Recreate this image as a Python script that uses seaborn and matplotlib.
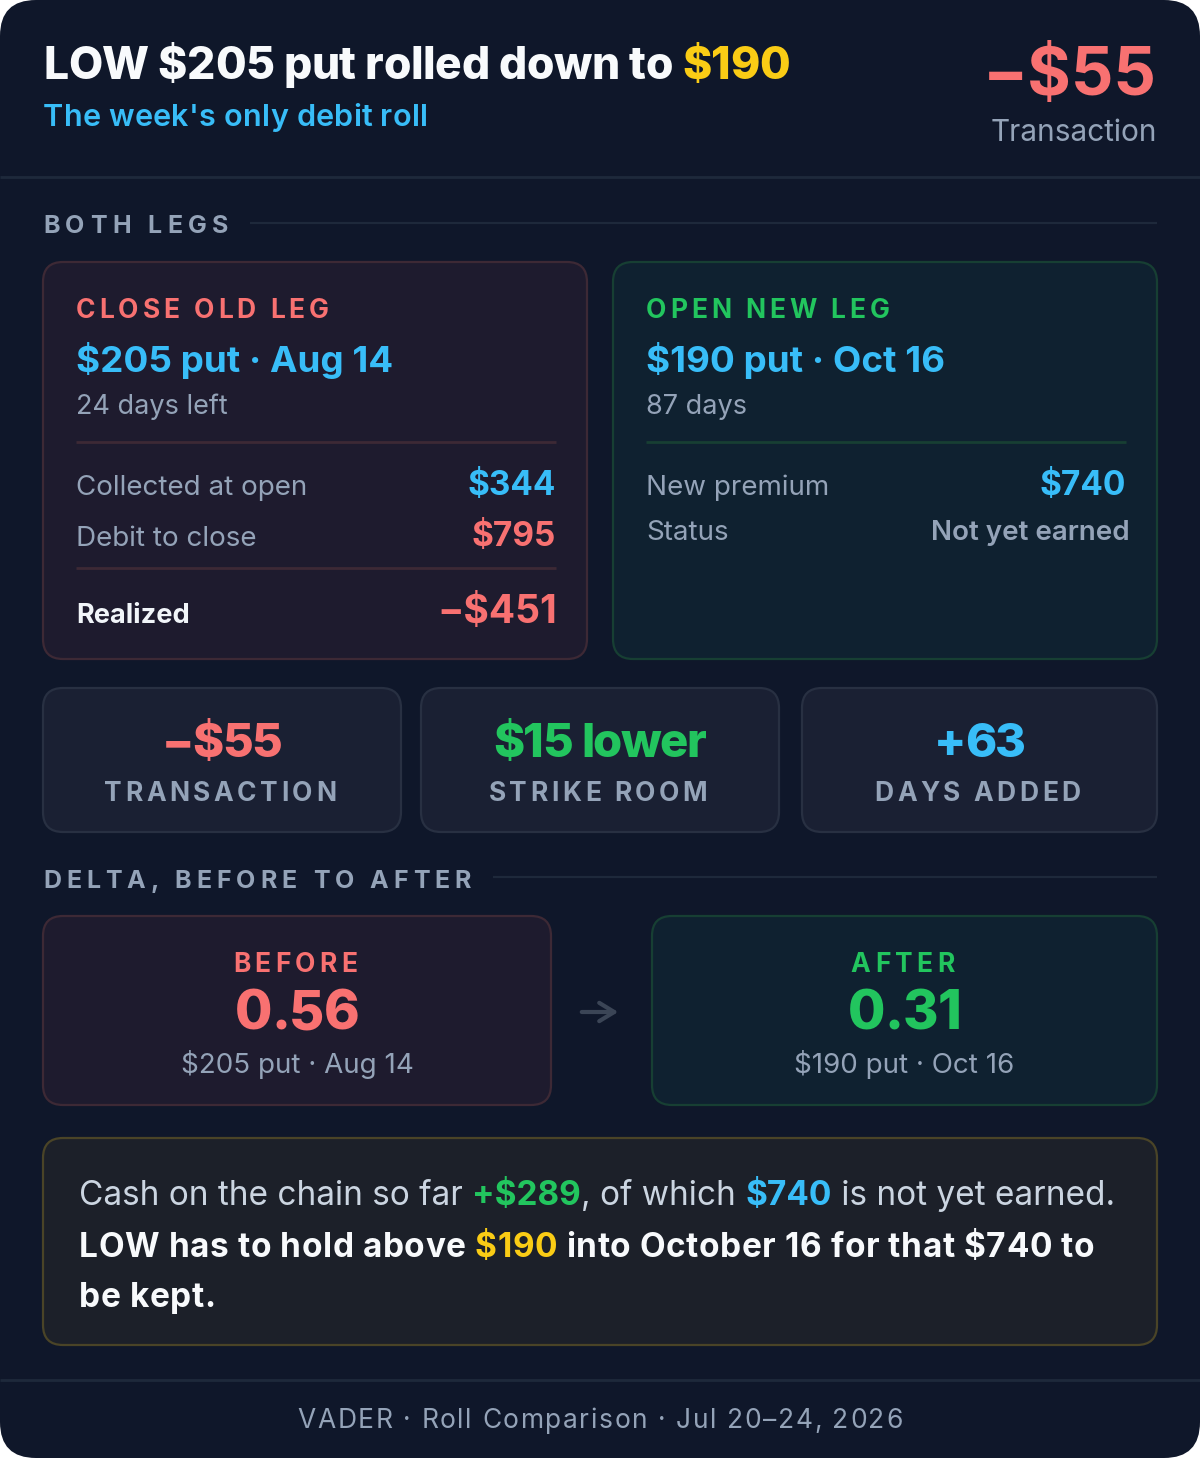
import matplotlib
matplotlib.use("Agg")
import matplotlib.pyplot as plt
import seaborn as sns
from matplotlib.patches import FancyBboxPatch

# -> Datos de la tarjeta <-
ticker = "LOW"
old_strike, new_strike = 205, 190
old_exp, new_exp = "Aug 14", "Oct 16"
old_days, new_days = 24, 87
transaction = -55
collected_open = 344
debit_close = 795
realized = -451
new_premium = 740
stat_values = ["\u2212$55", "$15 lower", "+63"]
stat_labels = ["TRANSACTION", "STRIKE ROOM", "DAYS ADDED"]
delta_labels = ["BEFORE", "AFTER"]
delta_values = [0.56, 0.31]
chain_cash = 289
footer = "VADER \u00b7 Roll Comparison \u00b7 Jul 20\u201324, 2026"

# colores
BG = "#0f172a"
WHITE = "#f8fafc"
GREY = "#94a3b8"
LIGHT = "#cbd5e1"
RED = "#f87171"
GREEN = "#22c55e"
BLUE = "#38bdf8"
YELLOW = "#facc15"
LINE = "#1e293b"
RED_FC, RED_EC = "#1e1b2e", "#3d2935"
GRN_FC, GRN_EC = "#0f2130", "#173f33"
STAT_FC, STAT_EC = "#1a2033", "#283042"
NOTE_FC, NOTE_EC = "#1c2029", "#4a4427"

sns.set_theme(style="dark")
plt.rcParams["font.family"] = ["Inter", "DejaVu Sans"]

W, H = 1200, 1458
fig = plt.figure(figsize=(12, 14.58), dpi=100, facecolor="white")
ax = fig.add_axes([0, 0, 1, 1])
ax.set_xlim(0, W)
ax.set_ylim(H, 0)
ax.axis("off")
rend = fig.canvas.get_renderer()


def _w(s, size, weight):
    t = ax.text(0, 0, s, fontsize=size, fontweight=weight)
    w = t.get_window_extent(rend).width
    t.remove()
    return w


def text_width(s, size, weight):
    """Ancho real incluyendo espacios al final"""
    return _w("x" + s + "x", size, weight) - _w("xx", size, weight)


def caja(x, y, w, h, fc, ec, r=20, lw=1.6):
    ax.add_patch(FancyBboxPatch((x, y), w, h, boxstyle=f"round,pad=0,rounding_size={r}",
                                fc=fc, ec=ec, lw=lw))


def linea(x0, x1, y, color=LINE, lw=1.6):
    ax.plot([x0, x1], [y, y], color=color, lw=lw, solid_capstyle="butt")


def espaciado(x, y, s, size, color, weight="bold", sp=4, ha="left"):
    anchos = [text_width(c, size, weight) for c in s]
    total = sum(anchos) + sp * (len(s) - 1)
    if ha == "center":
        x -= total / 2
    for c, w in zip(s, anchos):
        ax.text(x, y, c, fontsize=size, color=color, fontweight=weight, va="baseline")
        x += w + sp
    return total


def tramos(x, y, partes, size, sp=0):
    for s, color, weight in partes:
        if sp:
            x += espaciado(x, y, s, size, color, weight, sp) + sp
        else:
            ax.text(x, y, s, fontsize=size, color=color, fontweight=weight, va="baseline")
            x += text_width(s, size, weight)


def txt(x, y, s, size, color, weight="normal", ha="left"):
    ax.text(x, y, s, fontsize=size, color=color, fontweight=weight, ha=ha, va="baseline")


def money(v, sign=False):
    if v < 0:
        return f"\u2212${abs(v)}"
    return f"+${v}" if sign else f"${v}"


# fondo de la tarjeta
caja(0, 0, W, H, BG, BG, r=36, lw=0)

# -> Encabezado <-
tramos(43, 79, [(f"{ticker} ${old_strike} put rolled down to ", WHITE, "heavy"),
                (f"${new_strike}", YELLOW, "heavy")], 32, sp=-0.35)
espaciado(43, 126, "The week's only debit roll", 22, BLUE, "semibold", sp=0.25)
txt(1157, 95, money(transaction), 48, RED, "bold", ha="right")
txt(1157, 141, "Transaction", 21.5, GREY, ha="right")
linea(0, W, 177, lw=2)

# -> Ambas patas <-
espaciado(43, 233, "BOTH LEGS", 18, GREY, sp=5.5)
linea(250, 1157, 223)

caja(43, 262, 544, 397, RED_FC, RED_EC)
espaciado(76, 318, "CLOSE OLD LEG", 19, RED, sp=3.9)
txt(76, 372, f"${old_strike} put \u00b7 {old_exp}", 26.5, BLUE, "bold")
txt(76, 414, f"{old_days} days left", 19.5, GREY)
linea(76, 556, 442, RED_EC, 2)
txt(76, 495, "Collected at open", 20, GREY)
txt(556, 495, money(collected_open), 24, BLUE, "bold", ha="right")
txt(76, 546, "Debit to close", 20, GREY)
txt(556, 546, money(debit_close), 24, RED, "bold", ha="right")
linea(76, 556, 568, RED_EC, 2)
txt(76, 623, "Realized", 19.5, "#f1f5f9", "bold")
txt(557, 623, money(realized), 28, RED, "bold", ha="right")

caja(613, 262, 544, 397, GRN_FC, GRN_EC)
espaciado(646, 318, "OPEN NEW LEG", 19, GREEN, sp=3.9)
txt(646, 372, f"${new_strike} put \u00b7 {new_exp}", 26.5, BLUE, "bold")
txt(646, 414, f"{new_days} days", 19.5, GREY)
linea(646, 1126, 442, GRN_EC, 2)
txt(646, 495, "New premium", 20, GREY)
txt(1126, 495, money(new_premium), 24, BLUE, "bold", ha="right")
txt(646, 540, "Status", 20, GREY)
txt(1130, 540, "Not yet earned", 20, GREY, "semibold", ha="right")

# -> Estadisticas <-
stat_x = [(43, 358), (421, 358), (802, 355)]
stat_colors = [RED, GREEN, BLUE]
for (x0, w), val, lab, col in zip(stat_x, stat_values, stat_labels, stat_colors):
    caja(x0, 688, w, 144, STAT_FC, STAT_EC)
    cx = x0 + w / 2
    espaciado(cx, 757, val, 34, col, "heavy", sp=-1.4, ha="center")
    espaciado(cx - 2, 801, lab, 19, GREY, sp=3.5, ha="center")

# -> Delta <-
espaciado(43, 888, "DELTA, BEFORE TO AFTER", 18, GREY, sp=5.0)
linea(493, 1157, 877)

delta_boxes = [(43, 508, RED_FC, RED_EC, RED), (652, 505, GRN_FC, GRN_EC, GREEN)]
delta_sub = [f"${old_strike} put \u00b7 {old_exp}", f"${new_strike} put \u00b7 {new_exp}"]
for (x0, w, fc, ec, col), lab, val, sub in zip(delta_boxes, delta_labels, delta_values, delta_sub):
    caja(x0, 916, w, 189, fc, ec)
    cx = x0 + w / 2
    espaciado(cx - 2, 972, lab, 19, col, sp=4.3, ha="center")
    espaciado(cx, 1029, f"{val:.2f}", 39, col, "heavy", sp=-1.0, ha="center")
    txt(cx, 1073, sub, 20, GREY, ha="center")

ax.annotate("", xy=(621, 1012), xytext=(579, 1012),
            arrowprops=dict(arrowstyle="->,head_length=0.9,head_width=0.55", color="#3b4556", lw=3))

# -> Nota <-
caja(43, 1138, 1114, 207, NOTE_FC, NOTE_EC)
tramos(79, 1205, [("Cash on the chain so far ", LIGHT, "normal"),
                  (money(chain_cash, sign=True), GREEN, "bold"),
                  (", of which ", LIGHT, "normal"),
                  (money(new_premium), BLUE, "bold"),
                  (" is not yet earned.", LIGHT, "normal")], 24)
tramos(79, 1257, [(f"{ticker} has to hold above ", WHITE, "bold"),
                  (money(new_strike), YELLOW, "bold"),
                  (f" into October 16 for that {money(new_premium)} to", WHITE, "bold")], 24, sp=0.6)
espaciado(79, 1307, "be kept.", 24, WHITE, "bold", sp=0.6)

# -> Pie <-
linea(0, W, 1380, lw=2)
espaciado(600, 1428, footer, 19, GREY, weight="normal", sp=1.6, ha="center")

fig.savefig("out.png", dpi=100, facecolor="white")
